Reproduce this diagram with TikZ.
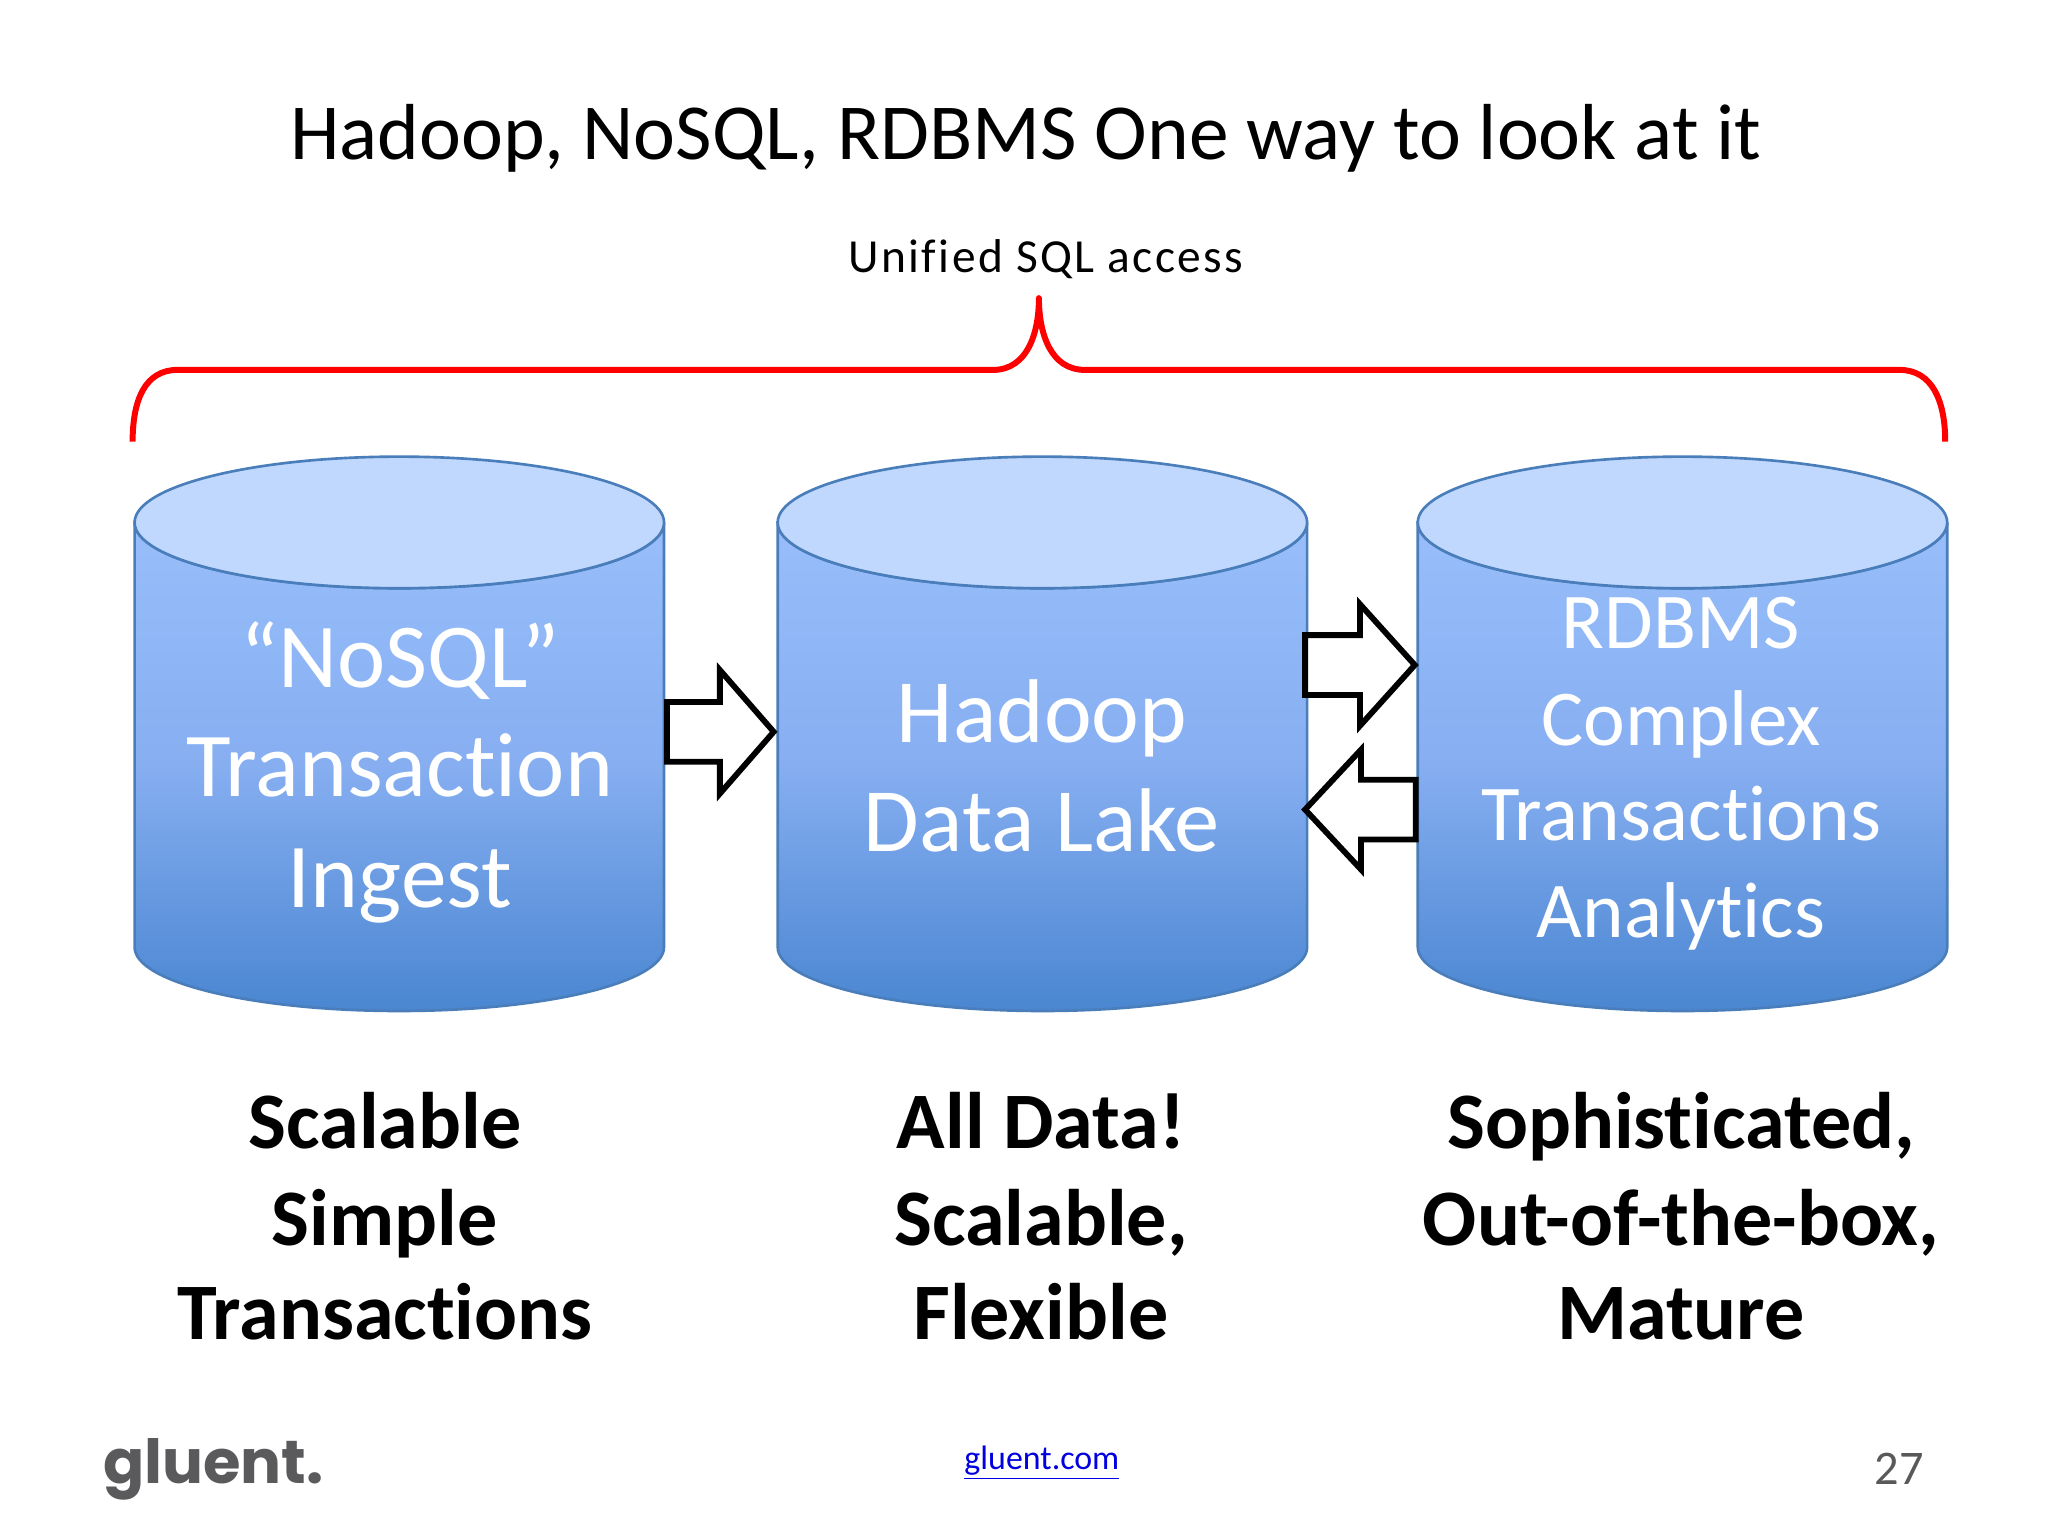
\documentclass[tikz,border=0pt]{standalone}
\usepackage{fontspec}
\setmainfont[Ligatures=NoCommon]{Carlito}
\newfontfamily\logofont{Poppins}
\definecolor{cylline}{HTML}{4A7EBB}
\definecolor{cyltop}{HTML}{C0D8FD}
\definecolor{bodyA}{HTML}{98BEFA}
\definecolor{bodyB}{HTML}{86AEF1}
\definecolor{bodyC}{HTML}{4A86D1}
\definecolor{linkblue}{HTML}{0000E0}
\definecolor{numgrey}{HTML}{595959}
\definecolor{logogrey}{HTML}{5A5A5C}
\tikzset{
  x=0.01994cm,y=-0.01994cm,
  cylbody/.style={draw=cylline,line width=1.5pt,top color=bodyA,bottom color=bodyC,middle color=bodyB},
  cyllid/.style={draw=cylline,line width=1.5pt,fill=cyltop},
  blockarrow/.style={draw=black,line width=3.3pt,fill=white,miter limit=10},
  bracket/.style={draw=red,line width=3.4pt,line join=round},
  cyltext/.style={anchor=base,text=white,inner sep=0pt},
  boldtext/.style={anchor=base,text=black,inner sep=0pt,font=\fontsize{45.6pt}{45.6pt}\selectfont\bfseries},
}
\newcommand{\cyl}[2]{% left x, name
  \path[cylbody] (#1,524) -- (#1,950) arc[start angle=180,end angle=360,x radius=265.5,y radius=-64] -- (#1+531,524) arc[start angle=360,end angle=180,x radius=265.5,y radius=-66] -- cycle;
  \path[cyllid] (#1+265.5,524) ellipse[x radius=265.5,y radius=66];
  \coordinate (#2) at (#1+265.5,740);
}
\begin{document}
\begin{tikzpicture}
\useasboundingbox[fill=white] (0,0) rectangle (2054.1,1540.6);
\node[anchor=base,inner sep=0pt,font=\fontsize{45.2pt}{45.2pt}\selectfont] (title) at (1029,160) {Hadoop, NoSQL, RDBMS One way to look at it};
\node[anchor=base,inner sep=0pt,font=\fontsize{27pt}{27pt}\selectfont\addfontfeature{LetterSpace=5}] (unified) at (1049,273) {Unified SQL access};
\draw[bracket] (133,443) .. controls (133,402) and (145,371) .. (178,371) -- (996,371) .. controls (1030,371) and (1042,335) .. (1042,299) .. controls (1042,335) and (1054,371) .. (1088,371) -- (1905,371) .. controls (1938,371) and (1951,402) .. (1951,443);
\cyl{135}{cylA}
\cyl{780}{cylB}
\cyl{1422}{cylC}
\foreach \nm/\lbl/\yy in {na/{“NoSQL”}/690,nb/Transaction/799,nc/Ingest/910}
  \node[cyltext,font=\fontsize{52pt}{52pt}\selectfont] (\nm) at (401,\yy) {\lbl};
\foreach \nm/\lbl/\yy in {ha/Hadoop/745,hb/Data Lake/854}
  \node[cyltext,font=\fontsize{51.5pt}{51.5pt}\selectfont] (\nm) at (1045,\yy) {\lbl};
\foreach \nm/\lbl/\yy in {ra/RDBMS/650,rb/Complex/748,rc/Transactions/843,rd/Analytics/940}
  \node[cyltext,font=\fontsize{45pt}{45pt}\selectfont] (\nm) at (1686,\yy) {\lbl};
\draw[blockarrow] (669,704) -- (722,704) -- (722,672) -- (776,734) -- (722,796) -- (722,764) -- (669,764) -- cycle;
\draw[blockarrow] (1309,637) -- (1364,637) -- (1364,606) -- (1419,667) -- (1364,728) -- (1364,697) -- (1309,697) -- cycle;
\draw[blockarrow] (1420,782) -- (1365,782) -- (1365,752) -- (1309,812) -- (1365,872) -- (1365,842) -- (1420,842) -- cycle;
\foreach \nm/\lbl/\yy in {sa/Scalable/1152,sb/Simple/1249,sc/Transactions/1343}
  \node[boldtext] (\nm) at (386,\yy) {\lbl};
\foreach \nm/\lbl/\yy in {da/All Data!/1152,db/{Scalable,}/1249,dc/Flexible/1343}
  \node[boldtext] (\nm) at (1044,\yy) {\lbl};
\foreach \nm/\lbl/\yy in {ma/{Sophisticated,}/1152,mb/{Out-of-the-box,}/1249,mc/Mature/1343}
  \node[boldtext] (\nm) at (1686,\yy) {\lbl};
\node[anchor=base,inner sep=0pt,text=logogrey,font=\logofont\bfseries\fontsize{34.6pt}{34.6pt}\selectfont] (logo) at (214,1488) {gluent.};
\node[anchor=base,inner sep=0pt,text=linkblue,font=\fontsize{19.3pt}{19.3pt}\selectfont] (link) at (1045,1474) {\underline{gluent.com}};
\node[anchor=base,inner sep=0pt,text=numgrey,font=\fontsize{27.5pt}{27.5pt}\selectfont] (page) at (1905,1489) {27};
\end{tikzpicture}
\end{document}
